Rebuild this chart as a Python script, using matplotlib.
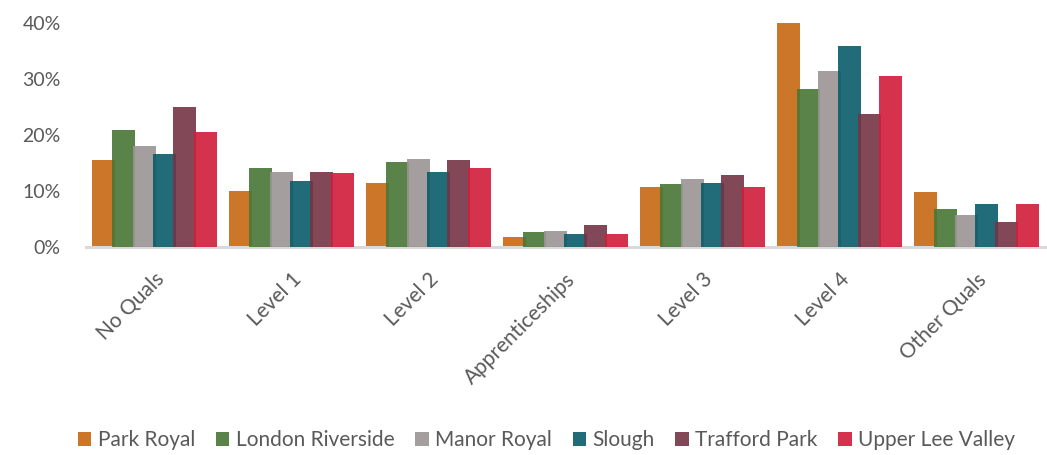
import matplotlib
matplotlib.use("Agg")
import matplotlib.pyplot as plt
import numpy as np
from matplotlib.ticker import FuncFormatter

plt.rcParams['font.family'] = ['Lato', 'DejaVu Sans']

categories = ['No Quals', 'Level 1', 'Level 2', 'Apprenticeships', 'Level 3', 'Level 4', 'Other Quals']
series = ['Park Royal', 'London Riverside', 'Manor Royal', 'Slough', 'Trafford Park', 'Upper Lee Valley']

park_royal       = [15.5, 10.0, 11.4, 1.8, 10.7, 40.0, 9.8]
london_riverside = [21.0, 14.2, 15.2, 2.7, 11.2, 28.2, 6.8]
manor_royal      = [18.0, 13.4, 15.7, 2.9, 12.1, 31.5, 5.7]
slough           = [16.7, 11.8, 13.4, 2.4, 11.4, 35.9, 7.7]
trafford_park    = [25.1, 13.4, 15.5, 3.9, 12.8, 23.8, 4.5]
upper_lee_valley = [20.5, 13.2, 14.2, 2.4, 10.7, 30.6, 7.7]

# base colours, drawn slightly transparent so the overlapping strips darken
colors = ['#c66711', '#487636', '#9b9494', '#095c69', '#743445', '#d11d3a']
values = [park_royal, london_riverside, manor_royal, slough, trafford_park, upper_lee_valley]

fig = plt.figure(figsize=(10.47, 4.55), dpi=100)
ax = fig.add_axes([0.082, 0.457, 0.916, 0.492])

x = np.arange(len(categories))
step = 0.148
width = 0.168
offset0 = -(5 * step + width) / 2 + width / 2
for i, (name, vals) in enumerate(zip(series, values)):
    ax.bar(x + offset0 + i * step, vals, width=width, color=colors[i], alpha=0.9,
           linewidth=0, label=name, zorder=2 + i)

ax.set_xlim(-0.5, 6.5)
ax.set_ylim(0, 40)
ax.set_yticks([0, 10, 20, 30, 40])
ax.yaxis.set_major_formatter(FuncFormatter(lambda v, p: f'{v:.0f}%'))
ax.set_xticks(x)
ax.set_xticklabels(categories, rotation=45, ha='right', rotation_mode='anchor')

for s in ['top', 'right', 'left']:
    ax.spines[s].set_visible(False)
ax.spines['bottom'].set_color('#d9d9d9')
ax.spines['bottom'].set_linewidth(2.2)
ax.tick_params(axis='both', length=0, colors='#595959', labelsize=14)
ax.tick_params(axis='x', labelsize=15, pad=16)
ax.tick_params(axis='y', pad=18)

fig.legend(loc='center', bbox_to_anchor=(0.522, 0.033), ncol=6, frameon=False,
           fontsize=15, handlelength=0.65, handleheight=0.65, handletextpad=0.3,
           columnspacing=1.0, labelcolor='#595959')

fig.savefig('out.png', dpi=100)
